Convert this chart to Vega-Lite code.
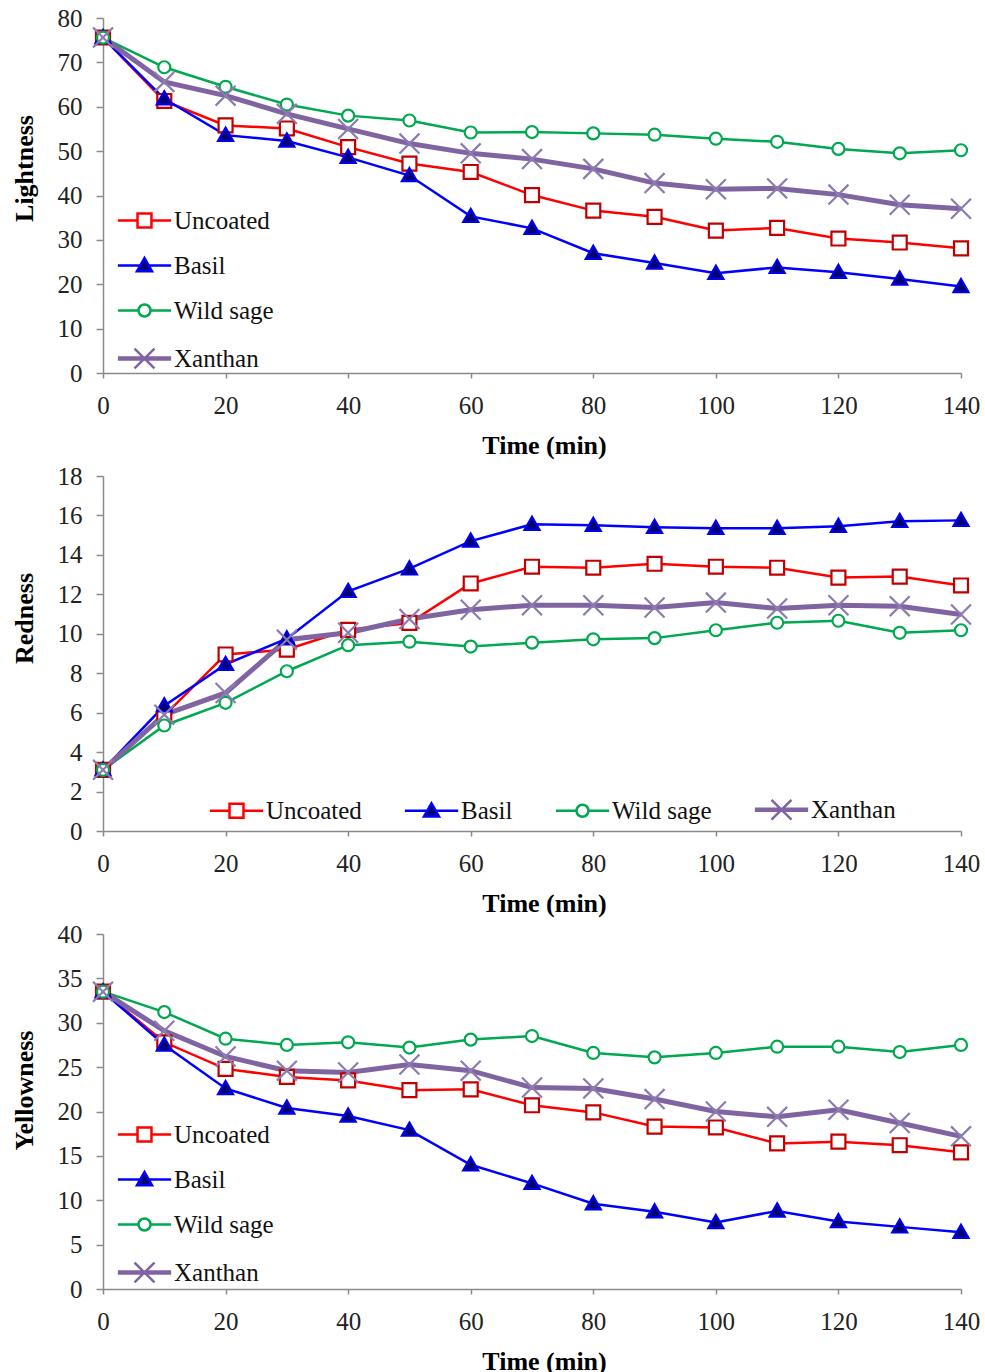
{
  "$schema": "https://vega.github.io/schema/vega-lite/v6.json",
  "background": "white",
  "padding": {"left": 11, "top": 6, "right": 5, "bottom": 0},
  "spacing": 6,
  "config": {
    "view": {"stroke": null},
    "font": "Liberation Serif",
    "axis": {
      "grid": false,
      "domainColor": "#8a8a8a",
      "tickColor": "#8a8a8a",
      "domainWidth": 1.5,
      "tickWidth": 1.5,
      "labelFont": "Liberation Serif",
      "labelFontSize": 25,
      "labelColor": "#222222",
      "titleFont": "Liberation Serif",
      "titleFontSize": 26,
      "titleFontWeight": "bold",
      "titleColor": "#000000",
      "labelFlush": false,
      "labelOverlap": false
    },
    "axisY": {"labelOverlap": false},
    "legend": {
      "title": null,
      "orient": "none",
      "symbolType": {"expr": "datum.value === 'Uncoated' ? 'M-3.55,0H-0.93M0.93,0H3.55M-0.93,-0.93H0.93V0.93H-0.93Z' : datum.value === 'Basil' ? 'M-3.55,0H-0.6M0.6,0H3.55M0,-1L1,0.75H-1Z' : datum.value === 'Wild sage' ? 'M-3.55,0H-0.8M0.8,0H3.55M0.8,0A0.8,0.8,0,1,1,-0.8,0A0.8,0.8,0,1,1,0.8,0Z' : 'M-3.55,0H3.55M-3.55,-0.14H3.55M-3.55,0.14H3.55M-1.33,-1.33L1.33,1.33M-1.33,1.33L1.33,-1.33'"},
      "symbolFillColor": {"expr": "datum.value === 'Basil' ? '#000070' : '#ffffff'"},
      "symbolSize": 225,
      "symbolStrokeWidth": 2.5,
      "symbolOffset": 14,
      "labelOffset": 17,
      "labelFont": "Liberation Serif",
      "labelFontSize": 25,
      "labelColor": "#111111",
      "padding": 0
    }
  },
  "data": {
    "values": [
      {"t": 0, "s": "Uncoated", "L": 75.6, "a": 3.1, "b": 33.5},
      {"t": 10, "s": "Uncoated", "L": 61.3, "a": 5.85, "b": 27.8},
      {"t": 20, "s": "Uncoated", "L": 55.8, "a": 8.95, "b": 24.8},
      {"t": 30, "s": "Uncoated", "L": 55.1, "a": 9.2, "b": 23.9},
      {"t": 40, "s": "Uncoated", "L": 50.9, "a": 10.2, "b": 23.5},
      {"t": 50, "s": "Uncoated", "L": 47.2, "a": 10.55, "b": 22.4},
      {"t": 60, "s": "Uncoated", "L": 45.3, "a": 12.55, "b": 22.5},
      {"t": 70, "s": "Uncoated", "L": 40.1, "a": 13.4, "b": 20.7},
      {"t": 80, "s": "Uncoated", "L": 36.6, "a": 13.35, "b": 19.9},
      {"t": 90, "s": "Uncoated", "L": 35.2, "a": 13.55, "b": 18.3},
      {"t": 100, "s": "Uncoated", "L": 32.1, "a": 13.4, "b": 18.2},
      {"t": 110, "s": "Uncoated", "L": 32.7, "a": 13.35, "b": 16.4},
      {"t": 120, "s": "Uncoated", "L": 30.3, "a": 12.85, "b": 16.6},
      {"t": 130, "s": "Uncoated", "L": 29.4, "a": 12.9, "b": 16.2},
      {"t": 140, "s": "Uncoated", "L": 28.1, "a": 12.45, "b": 15.4},
      {"t": 0, "s": "Basil", "L": 75.6, "a": 3.1, "b": 33.5},
      {"t": 10, "s": "Basil", "L": 61.8, "a": 6.35, "b": 27.5},
      {"t": 20, "s": "Basil", "L": 53.6, "a": 8.45, "b": 22.6},
      {"t": 30, "s": "Basil", "L": 52.3, "a": 9.75, "b": 20.4},
      {"t": 40, "s": "Basil", "L": 48.6, "a": 12.15, "b": 19.5},
      {"t": 50, "s": "Basil", "L": 44.5, "a": 13.3, "b": 17.9},
      {"t": 60, "s": "Basil", "L": 35.3, "a": 14.7, "b": 14.0},
      {"t": 70, "s": "Basil", "L": 32.6, "a": 15.55, "b": 11.9},
      {"t": 80, "s": "Basil", "L": 27.0, "a": 15.5, "b": 9.6},
      {"t": 90, "s": "Basil", "L": 24.8, "a": 15.4, "b": 8.7},
      {"t": 100, "s": "Basil", "L": 22.5, "a": 15.35, "b": 7.5},
      {"t": 110, "s": "Basil", "L": 23.8, "a": 15.35, "b": 8.8},
      {"t": 120, "s": "Basil", "L": 22.7, "a": 15.45, "b": 7.6},
      {"t": 130, "s": "Basil", "L": 21.2, "a": 15.7, "b": 7.0},
      {"t": 140, "s": "Basil", "L": 19.5, "a": 15.75, "b": 6.4},
      {"t": 0, "s": "Wild sage", "L": 75.6, "a": 3.1, "b": 33.5},
      {"t": 10, "s": "Wild sage", "L": 68.9, "a": 5.35, "b": 31.2},
      {"t": 20, "s": "Wild sage", "L": 64.5, "a": 6.5, "b": 28.2},
      {"t": 30, "s": "Wild sage", "L": 60.5, "a": 8.1, "b": 27.5},
      {"t": 40, "s": "Wild sage", "L": 58.0, "a": 9.42, "b": 27.8},
      {"t": 50, "s": "Wild sage", "L": 56.9, "a": 9.6, "b": 27.2},
      {"t": 60, "s": "Wild sage", "L": 54.2, "a": 9.35, "b": 28.1},
      {"t": 70, "s": "Wild sage", "L": 54.3, "a": 9.55, "b": 28.5},
      {"t": 80, "s": "Wild sage", "L": 54.0, "a": 9.72, "b": 26.6},
      {"t": 90, "s": "Wild sage", "L": 53.7, "a": 9.78, "b": 26.1},
      {"t": 100, "s": "Wild sage", "L": 52.8, "a": 10.18, "b": 26.6},
      {"t": 110, "s": "Wild sage", "L": 52.1, "a": 10.56, "b": 27.3},
      {"t": 120, "s": "Wild sage", "L": 50.5, "a": 10.66, "b": 27.3},
      {"t": 130, "s": "Wild sage", "L": 49.5, "a": 10.05, "b": 26.7},
      {"t": 140, "s": "Wild sage", "L": 50.2, "a": 10.18, "b": 27.5},
      {"t": 0, "s": "Xanthan", "L": 75.6, "a": 3.1, "b": 33.5},
      {"t": 10, "s": "Xanthan", "L": 65.6, "a": 5.9, "b": 29.1},
      {"t": 20, "s": "Xanthan", "L": 62.5, "a": 7.0, "b": 26.2},
      {"t": 30, "s": "Xanthan", "L": 58.4, "a": 9.7, "b": 24.6},
      {"t": 40, "s": "Xanthan", "L": 55.0, "a": 10.05, "b": 24.4},
      {"t": 50, "s": "Xanthan", "L": 51.7, "a": 10.75, "b": 25.3},
      {"t": 60, "s": "Xanthan", "L": 49.5, "a": 11.22, "b": 24.6},
      {"t": 70, "s": "Xanthan", "L": 48.2, "a": 11.45, "b": 22.7},
      {"t": 80, "s": "Xanthan", "L": 46.0, "a": 11.45, "b": 22.6},
      {"t": 90, "s": "Xanthan", "L": 42.8, "a": 11.33, "b": 21.4},
      {"t": 100, "s": "Xanthan", "L": 41.4, "a": 11.58, "b": 20.0},
      {"t": 110, "s": "Xanthan", "L": 41.6, "a": 11.28, "b": 19.4},
      {"t": 120, "s": "Xanthan", "L": 40.2, "a": 11.45, "b": 20.2},
      {"t": 130, "s": "Xanthan", "L": 37.9, "a": 11.4, "b": 18.7},
      {"t": 140, "s": "Xanthan", "L": 37.0, "a": 10.98, "b": 17.2}
    ]
  },
  "resolve": {
    "scale": {"color": "independent", "shape": "independent", "fill": "independent", "stroke": "independent"},
    "legend": {"color": "independent"}
  },
  "vconcat": [
    {
      "width": 858,
      "height": 355,
      "encoding": {
        "x": {"field": "t", "type": "quantitative", "scale": {"domain": [0, 140], "nice": false}, "axis": {"title": "Time (min)", "values": [0, 20, 40, 60, 80, 100, 120, 140], "tickSize": 5, "labelPadding": 15, "titlePadding": 14, "titleX": 441, "labelOverlap": false}},
        "y": {"field": "L", "type": "quantitative", "scale": {"domain": [0, 80], "nice": false}, "axis": {"title": "Lightness", "values": [0, 10, 20, 30, 40, 50, 60, 70, 80], "tickSize": 7, "labelPadding": 14, "titlePadding": 20, "titleY": 150, "labelOverlap": false}}
      },
      "layer": [
        {
          "transform": [{"filter": "datum.s !== 'Xanthan'"}],
          "mark": {"type": "line", "strokeWidth": 2.5},
          "encoding": {
            "color": {"field": "s", "type": "nominal", "scale": {"domain": ["Uncoated", "Basil", "Wild sage", "Xanthan"], "range": ["#ff0000", "#0000ff", "#00a850", "#8064a2"]},
              "legend": {"legendX": 15, "legendY": 190, "direction": "vertical", "rowPadding": 19}}
          }
        },
        {
          "transform": [{"filter": "datum.s === 'Xanthan'"}],
          "mark": {"type": "line", "strokeWidth": 5},
          "encoding": {
            "color": {"field": "s", "type": "nominal"}
          }
        },
        {
          "mark": {"type": "point", "size": 225, "strokeWidth": 2.2, "opacity": 1},
          "encoding": {
            "shape": {"field": "s", "type": "nominal", "sort": ["Uncoated", "Basil", "Wild sage", "Xanthan"], "scale": {"range": ["M-0.93,-0.93H0.93V0.93H-0.93Z", "M0,-1L1,0.75H-1Z", "M0.8,0A0.8,0.8,0,1,1,-0.8,0A0.8,0.8,0,1,1,0.8,0Z", "M-1.33,-1.33L1.33,1.33M-1.33,1.33L1.33,-1.33"]}, "legend": null},
            "fill": {"field": "s", "type": "nominal", "sort": ["Uncoated", "Basil", "Wild sage", "Xanthan"], "scale": {"range": ["#ffffff", "#000070", "#ffffff", "#ffffff"]}, "legend": null},
            "stroke": {"field": "s", "type": "nominal", "sort": ["Uncoated", "Basil", "Wild sage", "Xanthan"], "scale": {"range": ["#c00000", "#0000ee", "#00a850", "#8b7bb0"]}, "legend": null}
          }
        }
      ]
    },
    {
      "width": 858,
      "height": 355,
      "encoding": {
        "x": {"field": "t", "type": "quantitative", "scale": {"domain": [0, 140], "nice": false}, "axis": {"title": "Time (min)", "values": [0, 20, 40, 60, 80, 100, 120, 140], "tickSize": 5, "labelPadding": 15, "titlePadding": 14, "titleX": 441, "labelOverlap": false}},
        "y": {"field": "a", "type": "quantitative", "scale": {"domain": [0, 18], "nice": false}, "axis": {"title": "Redness", "values": [0, 2, 4, 6, 8, 10, 12, 14, 16, 18], "tickSize": 7, "labelPadding": 14, "titlePadding": 20, "titleY": 142, "labelOverlap": false}}
      },
      "layer": [
        {
          "transform": [{"filter": "datum.s !== 'Xanthan'"}],
          "mark": {"type": "line", "strokeWidth": 2.5},
          "encoding": {
            "color": {"field": "s", "type": "nominal", "scale": {"domain": ["Uncoated", "Basil", "Wild sage", "Xanthan"], "range": ["#ff0000", "#0000ff", "#00a850", "#8064a2"]},
              "legend": {"legendX": 107, "legendY": 321, "direction": "horizontal", "columns": 4, "columnPadding": 37}}
          }
        },
        {
          "transform": [{"filter": "datum.s === 'Xanthan'"}],
          "mark": {"type": "line", "strokeWidth": 5},
          "encoding": {
            "color": {"field": "s", "type": "nominal"}
          }
        },
        {
          "mark": {"type": "point", "size": 225, "strokeWidth": 2.2, "opacity": 1},
          "encoding": {
            "shape": {"field": "s", "type": "nominal", "sort": ["Uncoated", "Basil", "Wild sage", "Xanthan"], "scale": {"range": ["M-0.93,-0.93H0.93V0.93H-0.93Z", "M0,-1L1,0.75H-1Z", "M0.8,0A0.8,0.8,0,1,1,-0.8,0A0.8,0.8,0,1,1,0.8,0Z", "M-1.33,-1.33L1.33,1.33M-1.33,1.33L1.33,-1.33"]}, "legend": null},
            "fill": {"field": "s", "type": "nominal", "sort": ["Uncoated", "Basil", "Wild sage", "Xanthan"], "scale": {"range": ["#ffffff", "#000070", "#ffffff", "#ffffff"]}, "legend": null},
            "stroke": {"field": "s", "type": "nominal", "sort": ["Uncoated", "Basil", "Wild sage", "Xanthan"], "scale": {"range": ["#c00000", "#0000ee", "#00a850", "#8b7bb0"]}, "legend": null}
          }
        }
      ]
    },
    {
      "width": 858,
      "height": 355,
      "encoding": {
        "x": {"field": "t", "type": "quantitative", "scale": {"domain": [0, 140], "nice": false}, "axis": {"title": "Time (min)", "values": [0, 20, 40, 60, 80, 100, 120, 140], "tickSize": 5, "labelPadding": 15, "titlePadding": 14, "titleX": 441, "labelOverlap": false}},
        "y": {"field": "b", "type": "quantitative", "scale": {"domain": [0, 40], "nice": false}, "axis": {"title": "Yellowness", "values": [0, 5, 10, 15, 20, 25, 30, 35, 40], "tickSize": 7, "labelPadding": 14, "titlePadding": 20, "titleY": 156, "labelOverlap": false}}
      },
      "layer": [
        {
          "transform": [{"filter": "datum.s !== 'Xanthan'"}],
          "mark": {"type": "line", "strokeWidth": 2.5},
          "encoding": {
            "color": {"field": "s", "type": "nominal", "scale": {"domain": ["Uncoated", "Basil", "Wild sage", "Xanthan"], "range": ["#ff0000", "#0000ff", "#00a850", "#8064a2"]},
              "legend": {"legendX": 15, "legendY": 188, "direction": "vertical", "rowPadding": 19}}
          }
        },
        {
          "transform": [{"filter": "datum.s === 'Xanthan'"}],
          "mark": {"type": "line", "strokeWidth": 5},
          "encoding": {
            "color": {"field": "s", "type": "nominal"}
          }
        },
        {
          "mark": {"type": "point", "size": 225, "strokeWidth": 2.2, "opacity": 1},
          "encoding": {
            "shape": {"field": "s", "type": "nominal", "sort": ["Uncoated", "Basil", "Wild sage", "Xanthan"], "scale": {"range": ["M-0.93,-0.93H0.93V0.93H-0.93Z", "M0,-1L1,0.75H-1Z", "M0.8,0A0.8,0.8,0,1,1,-0.8,0A0.8,0.8,0,1,1,0.8,0Z", "M-1.33,-1.33L1.33,1.33M-1.33,1.33L1.33,-1.33"]}, "legend": null},
            "fill": {"field": "s", "type": "nominal", "sort": ["Uncoated", "Basil", "Wild sage", "Xanthan"], "scale": {"range": ["#ffffff", "#000070", "#ffffff", "#ffffff"]}, "legend": null},
            "stroke": {"field": "s", "type": "nominal", "sort": ["Uncoated", "Basil", "Wild sage", "Xanthan"], "scale": {"range": ["#c00000", "#0000ee", "#00a850", "#8b7bb0"]}, "legend": null}
          }
        }
      ]
    }
  ]
}
